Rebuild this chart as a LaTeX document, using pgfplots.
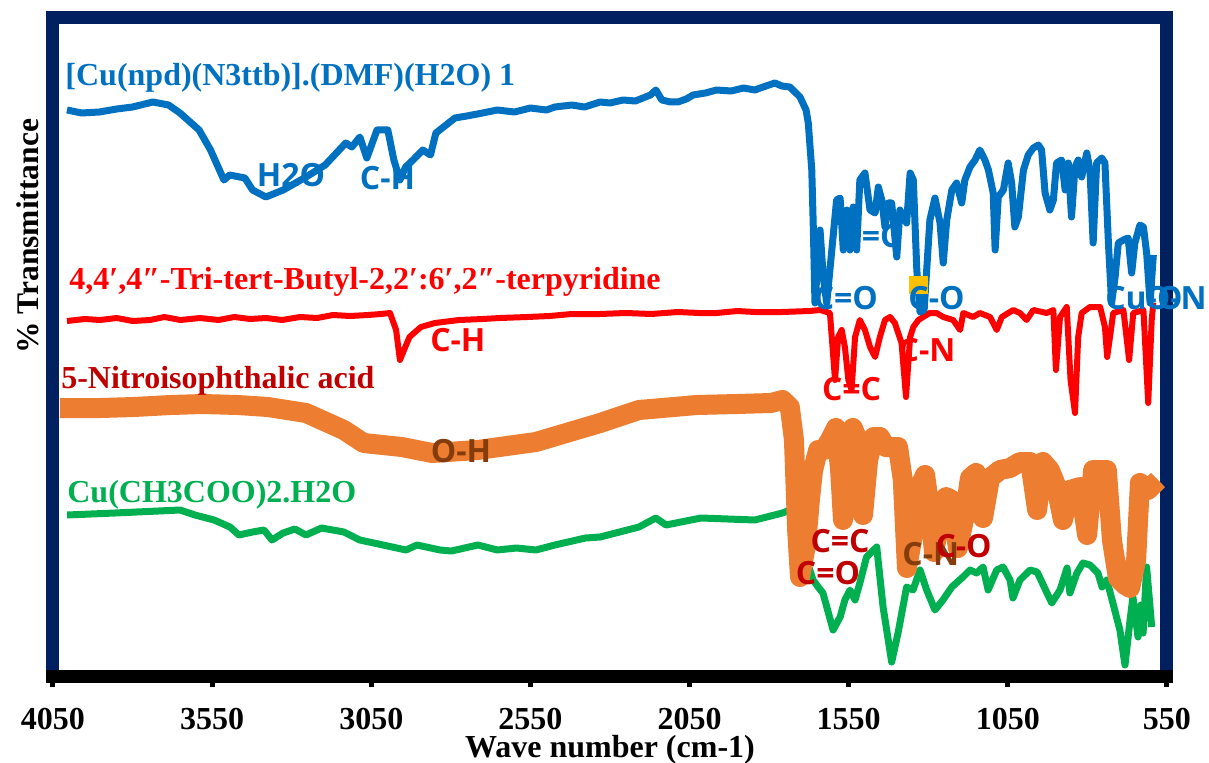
\documentclass[border=0pt]{standalone}
\usepackage{fontspec}
\setmainfont{Liberation Serif}
\newfontfamily\osans{Open Sans}
\usepackage{pgfplots}
\pgfplotsset{compat=1.18}
\definecolor{cblue}{HTML}{0070C0}
\definecolor{cred}{HTML}{FF0000}
\definecolor{corange}{HTML}{ED7D31}
\definecolor{cdred}{HTML}{C00000}
\definecolor{cgreen}{HTML}{00B050}
\definecolor{cnavy}{HTML}{002060}
\definecolor{cbrown}{HTML}{843C0C}
\definecolor{cyellow}{HTML}{FFC000}
\pgfplotstableread{
wn T
4006 566
3960 563
3904 564
3850 567
3800 569
3736 574
3687 571
3651 563
3591 546
3555 526
3513 496
3495 501
3447 498
3423 486
3381 479
3327 486
3255 499
3195 511
3130 533
3111 529
3086 539
3064 518
3032 546
2998 546
2979 516
2960 496
2942 509
2919 516
2888 526
2864 521
2847 543
2815 551
2787 558
2750 560
2700 563
2654 566
2600 564
2550 568
2500 566
2473 569
2420 571
2380 569
2331 574
2300 573
2259 576
2220 575
2173 581
2156 586
2137 576
2110 574
2087 574
2060 577
2039 581
2000 583
1965 586
1920 585
1880 588
1845 586
1810 590
1782 593
1760 590
1735 589
1703 579
1684 566
1677 553
1666 506
1661 446
1656 373
1640 446
1630 399
1619 373
1588 476
1577 478
1567 426
1556 466
1546 426
1536 469
1525 426
1515 496
1499 503
1483 466
1467 463
1457 489
1446 476
1436 449
1426 473
1415 473
1399 419
1389 466
1379 459
1368 453
1357 503
1347 496
1336 406
1326 364
1313 366
1305 406
1295 456
1279 478
1263 453
1253 413
1242 456
1226 486
1211 493
1195 473
1185 496
1169 509
1153 516
1138 526
1122 516
1111 506
1096 483
1090 426
1080 479
1064 486
1049 513
1038 493
1028 449
1017 459
1001 506
986 521
970 528
954 531
944 526
933 483
918 466
907 476
897 513
881 516
870 486
860 513
850 459
839 509
829 516
818 499
802 523
792 506
782 433
771 513
755 518
745 513
734 433
724 373
713 399
703 433
687 436
672 438
661 403
651 433
635 451
624 449
614 423
603 373
593 421
}\blueTab
\pgfplotstableread{
wn T
4006 355
3950 357
3902 356
3850 358
3800 355
3745 356
3700 359
3650 356
3588 358
3530 356
3480 359
3431 357
3380 358
3330 356
3274 359
3220 358
3170 361
3117 360
3060 361
3020 362
2991 363
2972 346
2960 316
2947 326
2930 339
2894 349
2850 353
2774 356
2700 357
2646 358
2560 359
2489 360
2420 362
2331 362
2250 363
2170 362
2087 364
2020 363
1965 363
1900 365
1845 364
1760 364
1673 365
1640 366
1609 363
1593 296
1583 339
1572 346
1562 329
1551 296
1541 286
1530 339
1515 356
1499 346
1483 329
1467 319
1452 339
1436 356
1420 359
1405 353
1384 333
1370 279
1357 339
1347 349
1331 356
1316 359
1295 363
1274 363
1253 359
1222 356
1200 346
1190 363
1159 359
1138 363
1106 359
1085 346
1069 359
1033 366
1012 363
991 356
970 366
928 363
907 366
899 306
886 359
865 369
853 296
839 263
829 339
818 363
792 369
760 369
745 349
738 319
729 339
719 363
687 366
669 316
656 363
624 366
609 273
598 356
593 373
}\redTab
\pgfplotstableread{
wn T
4028 268
3900 268
3796 269
3680 271
3579 272
3470 271
3375 269
3255 263
3136 246
3074 233
2954 229
2859 223
2715 226
2533 234
2331 253
2209 266
2027 271
1900 272
1794 273
1758 276
1735 269
1722 236
1712 146
1703 99
1684 131
1672 176
1662 206
1646 226
1628 226
1609 236
1590 248
1577 206
1568 156
1555 206
1537 248
1521 236
1505 161
1489 216
1471 239
1452 239
1433 229
1414 229
1395 229
1380 196
1367 108
1351 136
1332 186
1310 201
1295 166
1282 124
1263 156
1244 179
1226 176
1207 128
1188 156
1169 198
1150 203
1128 158
1106 198
1075 206
1043 208
1012 214
980 214
958 166
940 214
918 206
899 191
877 156
855 186
823 189
801 141
782 206
760 206
739 206
723 136
704 98
682 91
666 88
647 116
635 193
610 186
578 196
}\orangeTab
\pgfplotstableread{
wn T
4006 161
3855 163
3651 166
3604 161
3544 156
3494 149
3466 141
3423 144
3387 146
3362 136
3327 143
3290 147
3255 141
3206 148
3136 144
3086 136
3013 131
2941 126
2906 131
2834 126
2798 125
2715 131
2654 126
2594 128
2533 126
2473 131
2377 138
2331 139
2209 149
2156 158
2124 151
2014 158
1845 156
1758 163
1735 166
1687 120
1662 96
1646 89
1631 83
1599 46
1577 59
1562 76
1546 86
1530 76
1515 93
1494 119
1462 129
1442 69
1415 14
1395 43
1368 89
1348 86
1326 106
1305 86
1279 66
1254 76
1226 89
1191 99
1169 106
1148 103
1128 109
1112 86
1085 106
1065 109
1043 96
1034 78
1012 96
980 106
958 104
927 83
912 73
886 86
864 108
855 83
833 103
814 113
792 111
767 103
754 89
739 96
720 73
698 46
682 11
666 56
657 79
641 39
632 71
625 43
614 109
598 49
}\greenTab
\begin{document}
\begin{tikzpicture}
\begin{axis}[
  at={(26.5pt,43pt)}, anchor=south west,
  scale only axis, width=557pt, height=329.15pt,
  xmin=550, xmax=4050, ymin=0, ymax=658.3,
  x dir=reverse,
  clip=false,
  axis line style={draw=none},
  ytick=\empty,
  xtick={550,1050,1550,2050,2550,3050,3550,4050},
  xticklabels={550,1050,1550,2050,2550,3050,3550,4050},
  xtick pos=left,
  tick align=outside,
  major tick length=5.5pt,
  every tick/.style={black, line width=2.5pt},
  xticklabel style={font=\bfseries\fontsize{16}{16}\selectfont, inner sep=0pt, yshift=-10.5pt},
  xlabel={Wave number (cm-1)},
  xlabel style={font=\bfseries\fontsize{16}{16}\selectfont, at={(axis description cs:0.5,0)}, anchor=north, inner sep=0pt, yshift=-29.5pt},
  ylabel={\% Transmittance},
  ylabel style={font=\bfseries\fontsize{15.75}{16}\selectfont, at={(axis description cs:-0.0224,0.668)}, anchor=center, inner sep=0pt},
  every axis plot/.append style={no markers, line join=round},
]
\draw[cnavy, line width=6.5pt] (axis description cs:0,0) rectangle (axis description cs:1,1);
\addplot[cred, line width=3pt] table[x=wn,y=T] {\redTab};
\addplot[cgreen, line width=3.5pt] table[x=wn,y=T] {\greenTab};
\addplot[corange, line width=10pt] table[x=wn,y=T] {\orangeTab};
\addplot[cblue, line width=3.5pt] table[x=wn,y=T] {\blueTab};
\draw[black, line width=6.5pt, line cap=rect] (axis description cs:0,0) -- (axis description cs:1,0);
\fill[cyellow] (axis cs:1361,400) rectangle (axis cs:1302,382);
% titles
\begin{scope}[every node/.style={inner sep=0pt, font=\bfseries\fontsize{16}{16}\selectfont}]
\node[anchor=west, text=cblue] at (axis cs:4012,598.5) {[Cu(npd)(N3ttb)].(DMF)(H2O) 1};
\node[anchor=west, text=cred] at (axis cs:4000,394.5) {4,4′,4″-Tri-tert-Butyl-2,2′:6′,2″-terpyridine};
\node[anchor=west, text=cdred] at (axis cs:4025,295.5) {5-Nitroisophthalic acid};
\node[anchor=west, text=cgreen] at (axis cs:4006,181.5) {Cu(CH3COO)2.H2O};
\end{scope}
\begin{scope}[every node/.style={inner sep=0pt, font=\osans\bfseries\fontsize{16}{16}\selectfont}]
\node[text=cblue] at (axis cs:3302,500.5) {H2O};
\node[text=cblue] at (axis cs:2999,497.5) {C-H};
\node[text=cblue] at (axis cs:1480,440) {C=C};
\node[text=cblue] at (axis cs:1559,378) {C=O};
\node[text=cblue] at (axis cs:1274,378) {C-O};
\node[text=cblue, anchor=west] at (axis cs:745,378) {Cu-O};
\node[text=cblue, anchor=east] at (axis cs:424,378) {O-N};
\node[text=cred] at (axis cs:2778,336) {C-H};
\node[text=cred] at (axis cs:1541,287) {C=C};
\node[text=cred] at (axis cs:1304,325.5) {C-N};
\node[text=cbrown] at (axis cs:2768,225) {O-H};
\node[text=cdred] at (axis cs:1577,134.5) {C=C};
\node[text=cdred] at (axis cs:1615,102.5) {C=O};
\node[text=cbrown] at (axis cs:1292,121.5) {C-N};
\node[text=cdred] at (axis cs:1189,129.5) {C-O};
\end{scope}
\end{axis}
\pgfresetboundingbox
\useasboundingbox (0,0) rectangle (604.5pt,381pt);
\end{tikzpicture}
\end{document}
